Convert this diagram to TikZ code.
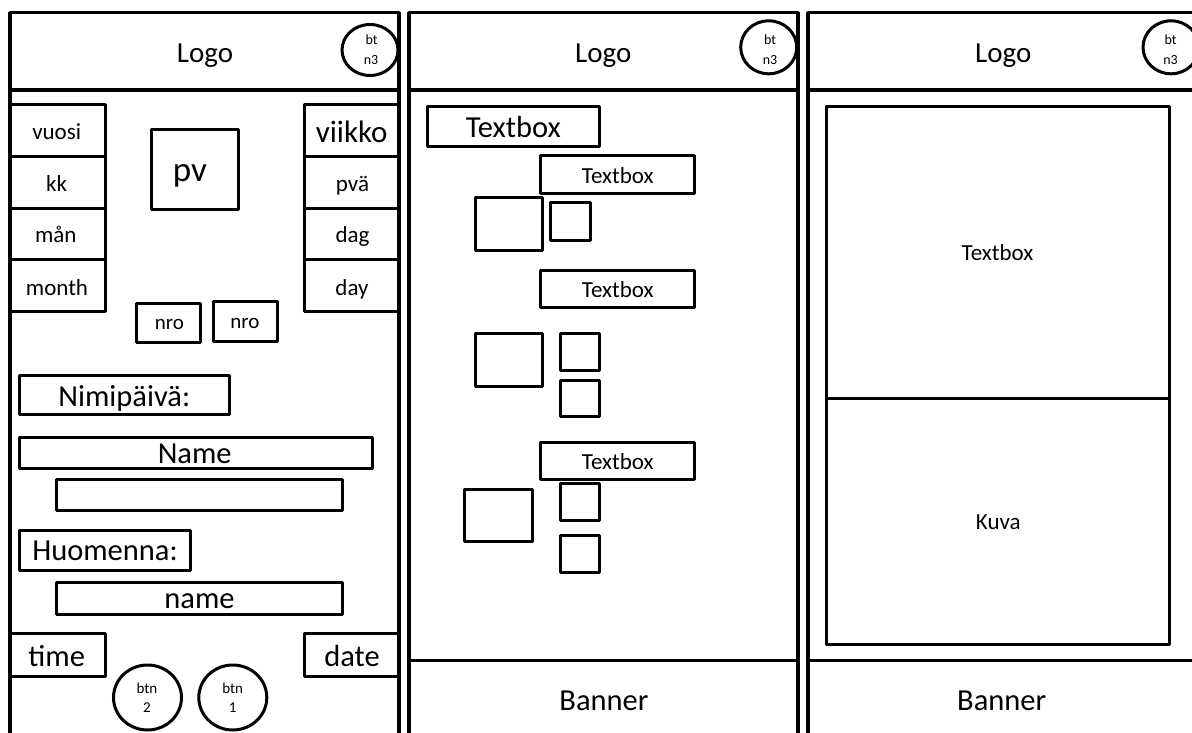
\documentclass[tikz,border=0pt]{standalone}
\usepackage{fontspec}
\setmainfont{Carlito}
\usetikzlibrary{shapes.geometric}
\newcommand\fz[1]{\fontsize{#1}{#1}\selectfont}
\newcommand\mkbox[5]{\node[box, minimum width={(#4)-(#2)}, minimum height={(#5)-(#3)}] (#1) at ({((#2)+(#4))/2},{((#3)+(#5))/2}) {};}
\tikzset{
  frame/.style={line width=3.5pt, line join=round},
  box/.style={draw, rectangle, line width=3pt, inner sep=0pt, outer sep=0pt, line join=round},
  oval/.style={draw, ellipse, line width=3pt, inner sep=0pt},
  lbl/.style={anchor=base, inner sep=0pt},
  big/.style={font=\fz{30.5}},
  logo/.style={font=\fz{29}},
  mid/.style={font=\fz{23}},
  small/.style={font=\fz{14}},
}
\begin{document}
\begin{tikzpicture}[x=1pt,y=-1pt]
\useasboundingbox (0,0) rectangle (1192,733);
\clip (0,0) rectangle (1192,733);
% ---------------- Panel 1 ----------------
\draw[frame] (10,12.7) rectangle (399,745);
\draw[frame] (10,90) -- (399,90);
\node[lbl,logo] (logoA) at (205,62.7) {Logo};
\node[oval, minimum width=56, minimum height=51] (btnA) at (370,50) {};
\node[lbl,small] at (371.5,44.3) {bt};
\node[lbl,small] at (371,64.3) {n3};
% left column
\mkbox{vuosi}{10}{105}{105}{156.5}
\mkbox{kk}{10}{156.5}{105}{208}
\mkbox{man}{10}{208}{105}{259.5}
\mkbox{month}{10}{259.5}{105}{311}
\node[lbl,mid] at (56.7,140) {vuosi};
\node[lbl,mid] at (56.7,191) {kk};
\node[lbl,mid] at (55.8,242.7) {mån};
\node[lbl,mid] at (57,295) {month};
% right column
\mkbox{viikko}{304}{105}{399}{156.5}
\mkbox{pva}{304}{156.5}{399}{208}
\mkbox{dag}{304}{208}{399}{259.5}
\mkbox{day}{304}{259.5}{399}{311}
\node[lbl,font=\fz{31}] at (351.7,142.7) {viikko};
\node[lbl,mid] at (352.5,191.7) {pvä};
\node[lbl,mid] at (352.5,242.7) {dag};
\node[lbl,mid] at (352,295) {day};
% pv
\mkbox{pv}{151.7}{130}{238}{209}
\node[lbl,font=\fz{35}] at (190,181.7) {pv};
% nro
\mkbox{nroA}{136.7}{303}{200}{342.7}
\mkbox{nroB}{213}{301.7}{277}{341.7}
\node[lbl,font=\fz{21}] at (169.3,329.3) {nro};
\node[lbl,font=\fz{21}] at (245,328.3) {nro};
% names
\mkbox{nimi}{19}{375}{229}{414}
\node[lbl,big] at (124.3,406) {Nimipäivä:};
\mkbox{nameA}{19}{437}{372}{468}
\node[lbl,big] at (194.7,463.3) {Name};
\mkbox{nameB}{56.7}{479}{342}{510.7}
\mkbox{huom}{19}{530}{190.7}{570}
\node[lbl,big] at (105,560) {Huomenna:};
\mkbox{nameC}{56.7}{582.7}{342}{614.3}
\node[lbl,big] at (199.5,608.3) {name};
% time / date
\mkbox{time}{10}{633.3}{105}{676.7}
\mkbox{date}{304}{633.3}{399}{676.7}
\node[lbl,big] at (56.7,666) {time};
\node[lbl,big] at (352,666) {date};
% btn circles
\node[oval, minimum width=68, minimum height=65] (btn2) at (147.5,697.5) {};
\node[oval, minimum width=68, minimum height=65] (btn1) at (232.8,697.5) {};
\node[lbl,font=\fz{15}] at (147,693.3) {btn};
\node[lbl,font=\fz{15}] at (147,712.7) {2};
\node[lbl,font=\fz{15}] at (232.7,693.3) {btn};
\node[lbl,font=\fz{15}] at (232.7,712.7) {1};
% ---------------- Panel 2 ----------------
\draw[frame] (409,12.7) rectangle (798,745);
\draw[frame] (409,90) -- (798,90);
\draw[frame] (409,660.7) -- (798,660.7);
\node[lbl,logo] (logoB) at (603.3,62.7) {Logo};
\node[oval, minimum width=56, minimum height=53] (btnB) at (768.7,47.3) {};
\node[lbl,small] at (770,44.3) {bt};
\node[lbl,small] at (770,64.3) {n3};
\mkbox{tbA}{427}{107}{599.3}{146.7}
\node[lbl,big] at (513.3,137.3) {Textbox};
\mkbox{tbB}{540.7}{155.7}{694}{193.3}
\node[lbl,mid] at (617.8,183.3) {Textbox};
\mkbox{sqA}{475}{197.7}{542.3}{250}
\mkbox{smB}{550.7}{202}{590.7}{240}
\mkbox{tbC}{540.7}{270.7}{694}{307.3}
\node[lbl,mid] at (617.8,297.7) {Textbox};
\mkbox{sqC}{475}{333}{542.3}{386}
\mkbox{smD}{560.3}{333}{599.3}{370}
\mkbox{smE}{560.3}{380}{599.3}{416.7}
\mkbox{tbD}{540.7}{442.7}{694}{479}
\node[lbl,mid] at (617.8,469.3) {Textbox};
\mkbox{sqF}{464.3}{489}{532.7}{541.7}
\mkbox{smG}{560.3}{483.3}{599.3}{520}
\mkbox{smH}{560.3}{535}{599.3}{572.7}
\node[lbl,big] (bannerB) at (604,710) {Banner};
% ---------------- Panel 3 ----------------
\draw[frame] (808,12.7) rectangle (1199,745);
\draw[frame] (808,90) -- (1199,90);
\draw[frame] (808,660.7) -- (1199,660.7);
\node[lbl,logo] (logoC) at (1003.3,62.7) {Logo};
\node[oval, minimum width=56, minimum height=53] (btnC) at (1171,47.3) {};
\node[lbl,small] at (1170.5,44.3) {bt};
\node[lbl,small] at (1170.5,64.3) {n3};
\mkbox{textC}{826.7}{107}{1169}{398.3}
\mkbox{kuva}{826.7}{398.3}{1169}{644.3}
\node[lbl,mid] at (997.5,260.7) {Textbox};
\node[lbl,mid] at (998.3,529.3) {Kuva};
\node[lbl,big] (bannerC) at (1001.7,710) {Banner};
\end{tikzpicture}
\end{document}
